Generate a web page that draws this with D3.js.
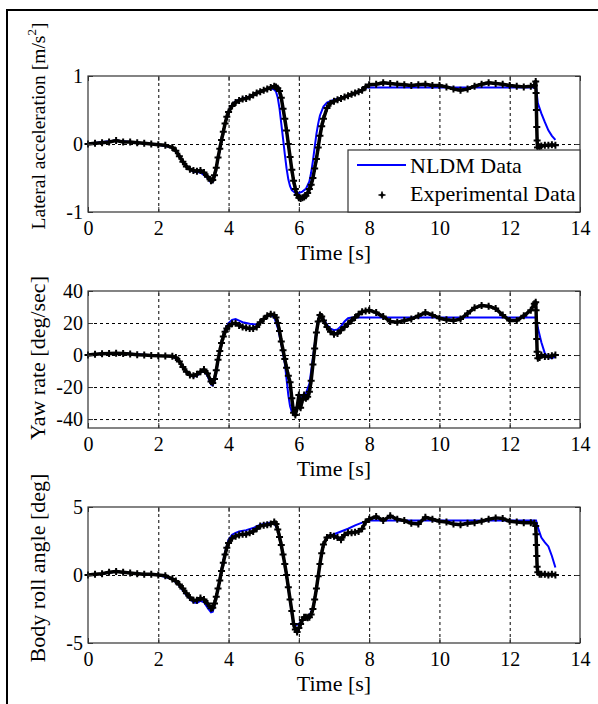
<!DOCTYPE html>
<html>
<head>
<meta charset="utf-8">
<script src="https://cdn.jsdelivr.net/npm/d3@7"></script>
<style>
  body { margin: 0; background: #fff; }
  svg text { font-family: "Liberation Serif", "Times New Roman", serif; fill: #000; }
</style>
</head>
<body>
<div id="chart"></div>
<script>
'use strict';

// time axis ticks (shared by all panels)
const timeTicks = [0, 2, 4, 6, 8, 10, 12, 14];

// Lateral acceleration [m/s^2]  -- [time, value]
const latExp = [
  [0,0],[0.2,0.01],[0.4,0.02],[0.6,0.03],[0.8,0.05],[1.0,0.03],[1.2,0.03],[1.4,0.02],[1.6,0.01],[1.8,0],
  [2.0,-0.01],[2.2,-0.02],[2.4,-0.05],[2.5,-0.1],[2.6,-0.18],[2.7,-0.26],[2.8,-0.33],[2.9,-0.37],[3.0,-0.39],
  [3.1,-0.4],[3.2,-0.39],[3.3,-0.42],[3.4,-0.48],[3.5,-0.54],[3.55,-0.53],[3.6,-0.46],[3.65,-0.35],[3.7,-0.2],
  [3.75,-0.07],[3.8,0.06],[3.85,0.18],[3.9,0.3],[3.95,0.4],[4.0,0.47],[4.1,0.56],[4.2,0.61],[4.3,0.64],
  [4.4,0.66],[4.5,0.67],[4.6,0.69],[4.7,0.72],[4.8,0.75],[4.9,0.77],[5.0,0.79],[5.1,0.81],[5.2,0.83],
  [5.3,0.85],[5.35,0.84],[5.4,0.82],[5.45,0.78],[5.5,0.68],[5.55,0.52],[5.6,0.37],[5.65,0.2],[5.7,0],
  [5.75,-0.19],[5.8,-0.38],[5.85,-0.54],[5.9,-0.66],[5.95,-0.75],[6.0,-0.79],[6.05,-0.8],[6.1,-0.79],
  [6.15,-0.78],[6.2,-0.76],[6.25,-0.72],[6.3,-0.66],[6.35,-0.6],[6.4,-0.5],[6.45,-0.36],[6.5,-0.22],
  [6.55,-0.05],[6.6,0.12],[6.65,0.26],[6.7,0.37],[6.8,0.53],[6.9,0.6],[7.0,0.63],[7.1,0.65],[7.2,0.67],
  [7.3,0.69],[7.4,0.71],[7.5,0.73],[7.6,0.75],[7.7,0.77],[7.8,0.79],[7.9,0.84],[8.0,0.87],[8.2,0.88],
  [8.4,0.9],[8.6,0.89],[8.8,0.88],[9.0,0.87],[9.2,0.86],[9.4,0.87],[9.6,0.88],[9.8,0.86],[10.0,0.86],
  [10.2,0.84],[10.4,0.81],[10.6,0.79],[10.8,0.81],[11.0,0.85],[11.2,0.88],[11.4,0.9],[11.6,0.89],
  [11.8,0.88],[12.0,0.86],[12.2,0.85],[12.4,0.84],[12.6,0.85],[12.7,0.86],[12.74,0.92],[12.75,0.75],
  [12.76,0.5],[12.77,0.25],[12.78,0.05],[12.79,-0.05],[12.85,-0.04],[12.9,-0.03],[13.0,-0.02],
  [13.1,-0.02],[13.2,-0.01],[13.3,-0.02]
];
const latSim = [
  [0,0],[0.4,0.03],[0.8,0.05],[1.2,0.03],[1.6,0.01],[2.0,-0.01],[2.4,-0.05],[2.6,-0.17],[2.8,-0.33],
  [3.0,-0.41],[3.2,-0.42],[3.4,-0.5],[3.5,-0.57],[3.55,-0.56],[3.6,-0.48],[3.7,-0.22],[3.8,0.05],[3.9,0.3],
  [4.0,0.48],[4.1,0.58],[4.2,0.63],[4.4,0.67],[4.6,0.7],[4.8,0.75],[5.0,0.79],[5.2,0.82],[5.3,0.8],
  [5.35,0.77],[5.4,0.68],[5.45,0.52],[5.5,0.3],[5.55,0.08],[5.6,-0.15],[5.65,-0.36],[5.7,-0.52],
  [5.75,-0.62],[5.8,-0.68],[5.9,-0.72],[6.0,-0.72],[6.1,-0.7],[6.2,-0.66],[6.3,-0.55],[6.35,-0.42],
  [6.4,-0.25],[6.45,-0.05],[6.5,0.15],[6.55,0.3],[6.6,0.42],[6.7,0.55],[6.8,0.61],[7.0,0.65],[7.2,0.68],
  [7.4,0.71],[7.6,0.75],[7.8,0.8],[7.9,0.83],[8.0,0.83],[12.75,0.83],[12.8,0.6],[12.9,0.45],[13.0,0.32],
  [13.1,0.2],[13.2,0.12],[13.3,0.06]
];

// Yaw rate [deg/sec]
const yawExp = [
  [0,0],[0.2,0.5],[0.4,0.8],[0.6,1],[0.8,1.1],[1.0,1.0],[1.2,0.6],[1.4,0.2],[1.6,0],[1.8,-0.3],[2.0,-0.5],
  [2.2,-0.6],[2.4,-0.8],[2.5,-1.5],[2.6,-4],[2.7,-7.5],[2.8,-10.5],[2.9,-12.5],[3.0,-13],[3.1,-12],
  [3.2,-10.5],[3.3,-9],[3.4,-11.5],[3.5,-16.5],[3.55,-17.5],[3.6,-15],[3.65,-9.5],[3.7,-3],[3.75,2.5],
  [3.8,7.5],[3.85,11.5],[3.9,14.5],[3.95,16.5],[4.0,18],[4.1,19.5],[4.2,19.8],[4.3,18.5],[4.4,17.5],
  [4.5,17],[4.6,16.5],[4.7,16.5],[4.8,17.5],[4.9,20.5],[5.0,22.5],[5.1,24.5],[5.2,25.5],[5.3,25],
  [5.35,23.5],[5.4,20],[5.45,15],[5.5,8.5],[5.55,3],[5.6,-2.5],[5.65,-8],[5.7,-13],[5.75,-17],[5.8,-27],
  [5.85,-36],[5.9,-37.5],[5.95,-33],[6.0,-25],[6.05,-33],[6.1,-28],[6.15,-25],[6.2,-27],[6.25,-26],
  [6.3,-23],[6.35,-16],[6.4,-6],[6.45,4],[6.5,14],[6.55,21],[6.6,25],[6.65,24],[6.7,21.5],[6.8,17.5],
  [6.9,14.5],[7.0,13],[7.1,13.5],[7.2,15.5],[7.3,17.5],[7.4,19.5],[7.5,21.5],[7.6,23.5],[7.7,25.5],
  [7.8,27],[7.9,27.5],[8.0,28],[8.2,26.5],[8.4,24],[8.6,21],[8.8,20.5],[9.0,21.5],[9.2,22.5],[9.4,24.5],
  [9.6,26.5],[9.8,25],[10.0,23],[10.2,22],[10.4,21.5],[10.6,22.5],[10.8,26],[11.0,29.5],[11.2,31],
  [11.4,30.5],[11.6,29],[11.8,25],[12.0,21.5],[12.2,21.5],[12.4,24.5],[12.6,28],[12.7,32],[12.74,33],
  [12.75,28],[12.76,20],[12.77,10],[12.78,2],[12.8,-2],[12.85,-1.5],[12.9,0],[13.0,-1],[13.1,-1],
  [13.2,-0.5],[13.3,0]
];
const yawSim = [
  [0,0],[0.4,1],[0.8,1.2],[1.2,0.8],[1.6,0.2],[2.0,-0.5],[2.4,-0.8],[2.6,-4],[2.8,-11],[3.0,-13.5],
  [3.1,-13],[3.2,-11],[3.3,-10],[3.4,-13],[3.5,-18.5],[3.55,-19],[3.6,-16],[3.7,-4],[3.8,8],[3.9,16],
  [4.0,20],[4.1,22],[4.2,22.5],[4.3,21.5],[4.4,20.5],[4.6,19.5],[4.8,19],[4.9,20.5],[5.0,22.5],
  [5.1,24.5],[5.2,25],[5.3,23.5],[5.4,17],[5.5,7],[5.6,-5],[5.65,-15],[5.7,-25],[5.75,-32],[5.8,-35.5],
  [5.85,-36],[5.9,-35],[6.0,-28],[6.1,-25],[6.2,-24],[6.3,-18],[6.4,-2],[6.5,15],[6.55,22],[6.6,25.5],
  [6.65,25],[6.7,22.5],[6.8,19],[6.9,16.5],[7.0,15.5],[7.1,16],[7.2,18],[7.3,21],[7.4,23],[7.5,23.5],
  [12.75,23.5],[12.8,17],[12.9,8],[13.0,1],[13.1,-1.5],[13.2,-2],[13.3,-1]
];

// Body roll angle [deg]
const rollExp = [
  [0,0],[0.2,0.05],[0.4,0.1],[0.6,0.2],[0.8,0.25],[1.0,0.2],[1.2,0.15],[1.4,0.1],[1.6,0.05],[1.8,0.05],
  [2.0,0],[2.2,-0.05],[2.4,-0.3],[2.5,-0.45],[2.6,-0.7],[2.7,-1.0],[2.8,-1.35],[2.9,-1.65],[3.0,-1.85],
  [3.1,-1.85],[3.2,-1.7],[3.3,-1.8],[3.4,-2.1],[3.5,-2.45],[3.55,-2.4],[3.6,-2.1],[3.65,-1.6],[3.7,-1.0],
  [3.75,-0.4],[3.8,0.3],[3.85,0.9],[3.9,1.5],[3.95,2.0],[4.0,2.35],[4.1,2.7],[4.2,2.85],[4.3,2.95],
  [4.4,3.0],[4.5,3.0],[4.6,3.1],[4.7,3.2],[4.8,3.4],[4.9,3.6],[5.0,3.65],[5.1,3.7],[5.2,3.75],[5.3,3.9],
  [5.35,3.75],[5.4,3.35],[5.45,2.8],[5.5,2.2],[5.55,1.5],[5.6,0.8],[5.65,0],[5.7,-0.9],[5.75,-1.8],
  [5.8,-2.65],[5.85,-3.6],[5.9,-4.0],[5.95,-4.2],[6.0,-3.9],[6.05,-3.6],[6.1,-3.3],[6.15,-3.1],[6.2,-3.1],
  [6.25,-3.15],[6.3,-3.1],[6.35,-2.9],[6.4,-2.5],[6.45,-1.8],[6.5,-1.0],[6.55,-0.1],[6.6,0.8],[6.65,1.6],
  [6.7,2.25],[6.8,2.75],[6.9,2.9],[7.0,2.85],[7.1,2.75],[7.2,2.6],[7.3,2.95],[7.4,3.1],[7.5,3.1],
  [7.6,3.15],[7.7,3.2],[7.8,3.4],[7.9,3.9],[8.0,4.1],[8.2,4.3],[8.4,4.0],[8.6,4.35],[8.8,4.1],[9.0,4.0],
  [9.2,3.8],[9.4,3.75],[9.6,4.25],[9.8,4.1],[10.0,3.95],[10.2,3.9],[10.4,3.75],[10.6,3.7],[10.8,3.8],
  [11.0,3.85],[11.2,3.95],[11.4,4.1],[11.6,4.2],[11.8,4.15],[12.0,3.95],[12.2,3.9],[12.4,3.85],
  [12.6,3.85],[12.7,3.8],[12.74,3.6],[12.75,3.0],[12.76,2.2],[12.77,1.4],[12.78,0.6],[12.8,0.2],
  [12.85,0.05],[12.9,0.05],[13.0,0.05],[13.1,0],[13.2,0.05],[13.3,0]
];
const rollSim = [
  [0,0],[0.4,0.1],[0.8,0.25],[1.2,0.15],[1.6,0.05],[2.0,0],[2.4,-0.3],[2.6,-0.8],[2.8,-1.5],[3.0,-2.0],
  [3.1,-2.05],[3.2,-1.9],[3.3,-2.0],[3.4,-2.4],[3.5,-2.75],[3.55,-2.7],[3.6,-2.2],[3.7,-1.0],[3.8,0.4],
  [3.9,1.7],[4.0,2.6],[4.1,2.95],[4.2,3.1],[4.3,3.2],[4.5,3.3],[4.7,3.45],[4.9,3.7],[5.0,3.75],[5.1,3.8],
  [5.2,3.85],[5.3,3.8],[5.4,3.3],[5.5,2.2],[5.6,0.8],[5.7,-1.0],[5.8,-2.8],[5.85,-3.5],[5.9,-3.7],
  [6.0,-3.6],[6.1,-3.3],[6.2,-3.2],[6.3,-3.0],[6.4,-2.4],[6.5,-1.0],[6.6,0.8],[6.7,2.3],[6.8,2.8],
  [7.0,3.0],[7.2,3.2],[7.4,3.4],[7.6,3.65],[7.8,3.85],[8.0,4.0],[12.75,4.0],[12.8,3.5],[12.9,2.75],
  [13.0,2.4],[13.1,2.1],[13.2,1.4],[13.3,0.55]
];

const legendLabels = ["NLDM Data", "Experimental Data"];

const panels = [
  {exp: latExp, sim: latSim, domain: [-1, 1], ticks: [-1, 0, 1], top: 76, bottom: 212,
   label: "Lateral acceleration [m/s", sup: "2", labelEnd: "]", labelY: 126, labelSize: 19.5, legend: true},
  {exp: yawExp, sim: yawSim, domain: [-45.6, 40], ticks: [-40, -20, 0, 20, 40], top: 291, bottom: 428,
   label: "Yaw rate [deg/sec]", labelY: 358, labelSize: 22},
  {exp: rollExp, sim: rollSim, domain: [-5, 5], ticks: [-5, 0, 5], top: 507, bottom: 643,
   label: "Body roll angle [deg]", labelY: 568, labelSize: 22}
];

const W = 598, H = 704;
const left = 88, right = 580;
const fmt = d => String(d);   // plain hyphen minus like the original

const svg = d3.select("#chart").append("svg")
  .attr("width", W)
  .attr("height", H);

svg.append("rect").attr("width", W).attr("height", H).attr("fill", "#fff");

// frame lines of the cropped figure
svg.append("line").attr("x1", 6).attr("x2", W).attr("y1", 10).attr("y2", 10)
  .attr("stroke", "#000").attr("stroke-width", 2);
svg.append("line").attr("x1", 7).attr("x2", 7).attr("y1", 9).attr("y2", H)
  .attr("stroke", "#000").attr("stroke-width", 2);

const x = d3.scaleLinear().domain([0, 14]).range([left, right]);

const plusMark = "M-3.5,0H3.5M0,-3.5V3.5";

panels.forEach(p => {
  const y = d3.scaleLinear().domain(p.domain).range([p.bottom, p.top]);
  const h = p.bottom - p.top;
  const g = svg.append("g");

  // grid
  g.append("g")
    .attr("transform", `translate(0,${p.bottom})`)
    .call(d3.axisBottom(x).tickValues(timeTicks.slice(1, -1)).tickSize(-h).tickFormat(""))
    .call(a => a.select(".domain").remove())
    .selectAll("line").attr("stroke", "#000").attr("stroke-dasharray", "3,3");
  g.append("g")
    .attr("transform", `translate(${left},0)`)
    .call(d3.axisLeft(y).tickValues(p.ticks.filter(t => t > p.domain[0] && t < p.domain[1])).tickSize(-(right - left)).tickFormat(""))
    .call(a => a.select(".domain").remove())
    .selectAll("line").attr("stroke", "#000").attr("stroke-dasharray", "3,3");

  // data lines
  const line = d3.line().x(d => x(d[0])).y(d => y(d[1]));
  g.append("path").datum(p.sim)
    .attr("d", line).attr("fill", "none").attr("stroke", "#0000ff").attr("stroke-width", 2);
  g.append("path").datum(p.exp)
    .attr("d", line).attr("fill", "none").attr("stroke", "#000").attr("stroke-width", 3.5)
    .attr("stroke-linejoin", "round");
  g.append("g").selectAll("path").data(p.exp).enter().append("path")
    .attr("d", plusMark)
    .attr("transform", d => `translate(${x(d[0])},${y(d[1])})`)
    .attr("stroke", "#000").attr("stroke-width", 2);

  // box + inward ticks
  g.append("rect")
    .attr("x", left).attr("y", p.top).attr("width", right - left).attr("height", h)
    .attr("fill", "none").attr("stroke", "#333").attr("stroke-width", 1.2);
  const tickAxes = [
    [d3.axisBottom(x).tickValues(timeTicks), `translate(0,${p.bottom})`],
    [d3.axisTop(x).tickValues(timeTicks), `translate(0,${p.top})`],
    [d3.axisLeft(y).tickValues(p.ticks), `translate(${left},0)`],
    [d3.axisRight(y).tickValues(p.ticks), `translate(${right},0)`]
  ];
  tickAxes.forEach(([ax, tr]) => {
    g.append("g").attr("transform", tr)
      .call(ax.tickSize(-5).tickFormat(""))
      .call(a => a.select(".domain").remove())
      .selectAll("line").attr("stroke", "#333");
  });

  // tick labels
  g.append("g").attr("transform", `translate(0,${p.bottom})`)
    .call(d3.axisBottom(x).tickValues(timeTicks).tickSize(0).tickPadding(9).tickFormat(fmt))
    .attr("font-family", null).attr("font-size", 20)
    .call(a => a.select(".domain").remove())
    .selectAll("text").attr("font-size", 20);
  g.append("g").attr("transform", `translate(${left},0)`)
    .call(d3.axisLeft(y).tickValues(p.ticks).tickSize(0).tickPadding(5).tickFormat(fmt))
    .attr("font-family", null).attr("font-size", 20)
    .call(a => a.select(".domain").remove())
    .selectAll("text").attr("font-size", 20);

  // axis titles
  g.append("text")
    .attr("x", (left + right) / 2).attr("y", p.bottom + 48)
    .attr("text-anchor", "middle").attr("font-size", 22)
    .text("Time [s]");
  const yl = g.append("text")
    .attr("transform", `translate(45,${p.labelY}) rotate(-90)`)
    .attr("text-anchor", "middle").attr("font-size", p.labelSize);
  yl.append("tspan").text(p.label);
  if (p.sup) {
    yl.append("tspan").attr("font-size", 13).attr("dy", -9).text(p.sup);
    yl.append("tspan").attr("dy", 9).text(p.labelEnd);
  }

  // legend
  if (p.legend) {
    const lg = g.append("g");
    lg.append("rect").attr("x", 348).attr("y", 150).attr("width", right - 348).attr("height", p.bottom - 150)
      .attr("fill", "#fff").attr("stroke", "#333").attr("stroke-width", 1.2);
    lg.append("line").attr("x1", 357).attr("x2", 406).attr("y1", 165).attr("y2", 165)
      .attr("stroke", "#0000ff").attr("stroke-width", 2);
    lg.append("path").attr("d", plusMark).attr("transform", "translate(382,195)")
      .attr("stroke", "#000").attr("stroke-width", 1.6);
    lg.append("circle").attr("cx", 382).attr("cy", 195).attr("r", 1.8).attr("fill", "#000");
    lg.selectAll("text.lab").data(legendLabels).enter().append("text")
      .attr("class", "lab")
      .attr("x", 410).attr("y", (d, i) => 173 + i * 28)
      .attr("font-size", 22)
      .text(d => d);
  }
});
</script>
</body>
</html>
